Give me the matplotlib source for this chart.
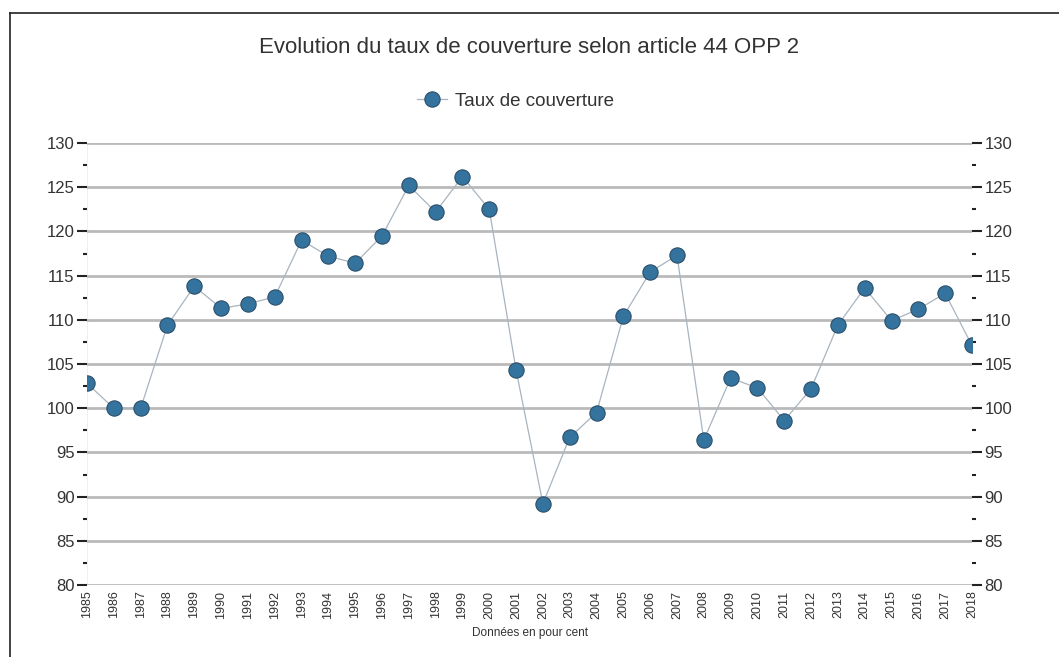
import matplotlib
matplotlib.use("Agg")
import matplotlib.pyplot as plt
from matplotlib.lines import Line2D
from matplotlib.ticker import MultipleLocator

years = list(range(1985, 2019))
taux = [102.8, 100.0, 100.0, 109.4, 113.8, 111.3, 111.8, 112.6, 119.0, 117.2,
        116.4, 119.5, 125.2, 122.2, 126.2, 122.5, 104.3, 89.2, 96.7, 99.5,
        110.4, 115.4, 117.3, 96.4, 103.4, 102.3, 98.6, 102.2, 109.4, 113.6,
        109.9, 111.2, 113.0, 107.1]
title = "Evolution du taux de couverture selon article 44 OPP 2"
series_name = "Taux de couverture"
xlabel = "Données en pour cent"

plt.rcParams['font.family'] = ['Liberation Sans', 'DejaVu Sans']
txt = '#333333'

fig = plt.figure(figsize=(10.59, 6.57), dpi=100)
ax = fig.add_axes([0.0822, 0.1096, 0.8356, 0.6727])

for y in range(80, 131, 5):
    ax.axhline(y, color='#bababa', lw=2.0, zorder=1)

ax.plot(years, taux, color='#a9b4bf', lw=0.9, marker='o', markersize=11,
        markerfacecolor='#35739f', markeredgecolor='#2b4f69', markeredgewidth=0.8,
        zorder=3)

ax.set_xlim(1985, 2018)
ax.set_ylim(80, 130)
ax.set_xticks(years)
ax.set_xticklabels([str(y) for y in years], rotation=90, fontsize=9, color=txt)
ax.yaxis.set_major_locator(MultipleLocator(5))
ax.yaxis.set_minor_locator(MultipleLocator(2.5))
ax.tick_params(axis='y', which='major', length=7, width=1.5, color='#222222',
               labelsize=12, labelcolor=txt, left=True, right=True,
               labelleft=True, labelright=True, pad=2)
ax.tick_params(axis='y', which='minor', length=3, width=1.5, color='#222222',
               left=True, right=True)
ax.tick_params(axis='x', length=0, pad=4)
for s in ax.spines.values():
    s.set_visible(False)
ax.axvline(1985, color='#f0f0f0', lw=0.8, zorder=0)
ax.axvline(2018, color='#f0f0f0', lw=0.8, zorder=0)

ax.set_xlabel(xlabel, fontsize=8.5, color=txt, labelpad=6)

fig.text(0.5, 0.927, title, ha='center', va='center', fontsize=16, color=txt)

handle = Line2D([], [], color='#a9b4bf', lw=0.9, marker='o', markersize=11,
                markerfacecolor='#35739f', markeredgecolor='#2b4f69', markeredgewidth=0.8)
fig.legend([handle], [series_name], loc='center', bbox_to_anchor=(0.487, 0.846),
           frameon=False, fontsize=13.5, handlelength=1.6, handletextpad=0.4,
           labelcolor=txt)

# figure frame (top and left edges)
fig.add_artist(Line2D([0.0094, 1.0], [0.980, 0.980], transform=fig.transFigure,
                      color='#222222', lw=1.2))
fig.add_artist(Line2D([0.0094, 0.0094], [0.0, 0.980], transform=fig.transFigure,
                      color='#222222', lw=1.2))

fig.savefig('out.png', dpi=100)
